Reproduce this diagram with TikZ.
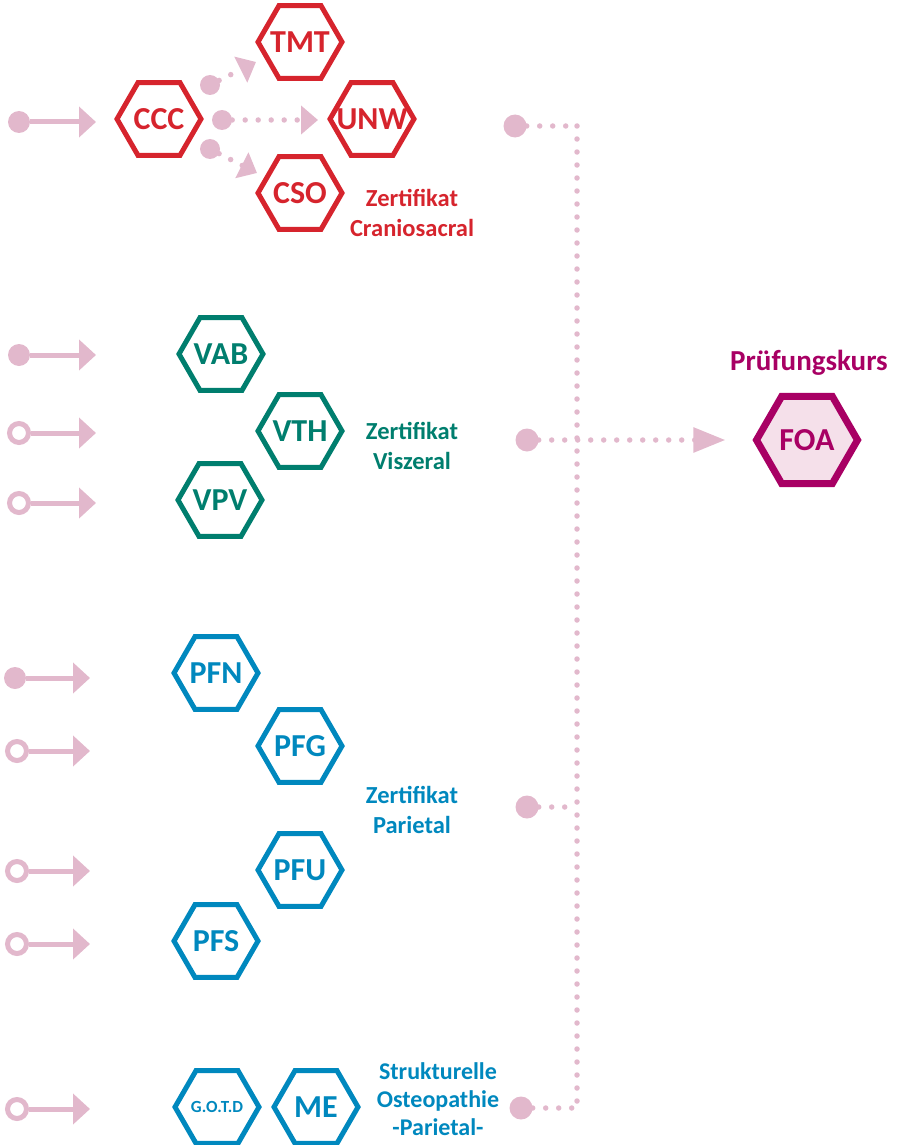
\documentclass[tikz,border=0pt]{standalone}
\usepackage{fontspec}
\setmainfont{Carlito}
\usetikzlibrary{shapes.geometric,arrows.meta}

\definecolor{feedpink}{RGB}{226,184,204}
\definecolor{cranred}{RGB}{214,36,45}
\definecolor{viszteal}{RGB}{0,126,110}
\definecolor{parblue}{RGB}{0,136,190}
\definecolor{foamag}{RGB}{168,0,100}
\definecolor{foafill}{RGB}{245,224,234}

\begin{document}
\begin{tikzpicture}[
    x=1pt, y=-1pt,
    hexa/.style={
        regular polygon,
        regular polygon sides=6,
        minimum size=84pt,
        inner xsep=-20pt,
        inner ysep=0pt,
        line width=5pt,
        draw=#1,
        text=#1,
        font=\bfseries\fontsize{32}{32}\selectfont
    },
    foahex/.style={
        regular polygon,
        regular polygon sides=6,
        minimum size=101pt,
        inner xsep=-20pt,
        inner ysep=0pt,
        line width=7pt,
        draw=foamag,
        fill=foafill,
        text=foamag,
        font=\bfseries\fontsize{32}{32}\selectfont
    },
    caption/.style={
        align=center,
        inner sep=0pt,
        text=#1,
        font=\bfseries\fontsize{24.5}{30}\selectfont
    },
    startdot/.style={
        circle, fill=feedpink, minimum size=22pt, inner sep=0pt
    },
    startring/.style={
        circle, draw=feedpink, fill=white, line width=5pt,
        minimum size=19pt, inner sep=0pt
    },
    knob/.style={
        circle, fill=feedpink, minimum size=#1, inner sep=0pt
    },
    feed/.style={
        draw=feedpink, line width=5pt,
        -{Triangle[length=17pt,width=30pt]}
    },
    dotline/.style={
        draw=feedpink, line width=5.5pt, line cap=round,
        dash pattern=on 0pt off 13pt
    }
]
    \useasboundingbox (0,0) rectangle (897,1145);

    % hexagons
    \foreach \name/\x/\y/\col/\txt in {
        ccc/159/119/cranred/CCC,
        tmt/300/42/cranred/TMT,
        unw/372/119/cranred/UNW,
        cso/300/193/cranred/CSO,
        vab/221/354/viszteal/VAB,
        vth/300/431/viszteal/VTH,
        vpv/220/500/viszteal/VPV,
        pfn/216/673/parblue/PFN,
        pfg/300/746/parblue/PFG,
        pfu/300/870/parblue/PFU,
        pfs/216/941/parblue/PFS,
        me/316/1107/parblue/ME%
    } {
        \node[hexa=\col] (\name) at (\x,\y) {\txt};
    }
    \node[hexa=parblue, font=\bfseries\fontsize{17}{17}\selectfont]
        (gotd) at (217,1107) {G.O.T.D};
    \node[foahex] (foa) at (807,440) {FOA};

    % captions
    \node[caption=cranred] (capcran) at (412,213) {Zertifikat\\Craniosacral};
    \node[caption=viszteal] (capvisz) at (412,446) {Zertifikat\\Viszeral};
    \node[caption=parblue] (cappar) at (412,810) {Zertifikat\\Parietal};
    \node[caption=parblue, font=\bfseries\fontsize{24}{28}\selectfont]
        (capstruk) at (438,1099) {Strukturelle\\Osteopathie\\-Parietal-};
    \node[caption=foamag, font=\bfseries\fontsize{29}{30}\selectfont]
        (capfoa) at (809,363) {Prüfungskurs};

    % entry arrows
    \foreach \i/\x/\y/\kind/\tip in {
        1/19/122/startdot/96,
        2/19/355/startdot/96,
        3/19/433/startring/96,
        4/19/503/startring/96,
        5/15/678/startdot/90,
        6/17/751/startring/90,
        7/17/871/startring/90,
        8/17/944/startring/90,
        9/17/1109/startring/90%
    } {
        \node[\kind] (s\i) at (\x,\y) {};
        \coordinate (f\i) at (\tip,\y);
        \draw[feed] (s\i) -- (f\i);
    }

    % branches out of CCC
    \node[knob=20pt] (kup) at (210,85) {};
    \node[knob=20pt] (kmid) at (222,120) {};
    \node[knob=20pt] (klow) at (210,149) {};
    \coordinate (tup) at (256,62);
    \coordinate (tmid) at (318,120);
    \coordinate (tlow) at (257,173);
    \foreach \a/\b in {kup/tup, kmid/tmid, klow/tlow} {
        \draw[dotline, -{Triangle[length=17pt,width=28pt]}] (\a) -- (\b);
    }

    % collector line
    \node[knob=23pt] (dcran) at (515,126) {};
    \node[knob=23pt] (dvisz) at (527,440) {};
    \node[knob=23pt] (dpar) at (527,807) {};
    \node[knob=23pt] (dstruk) at (521,1108) {};
    \coordinate (jtop) at (577,126);
    \coordinate (jpar) at (577,807);
    \coordinate (jbot) at (577,1108);
    \draw[dotline] (jtop) -- (jbot);
    \draw[dotline] (dcran) -- (jtop);
    \draw[dotline] (dpar) -- (jpar);
    \draw[dotline] (dstruk) -- (jbot);
    \draw[dotline, shorten >=27pt, -{Triangle[length=32pt,width=24pt]}]
        (dvisz) -- (foa);

\end{tikzpicture}
\end{document}
